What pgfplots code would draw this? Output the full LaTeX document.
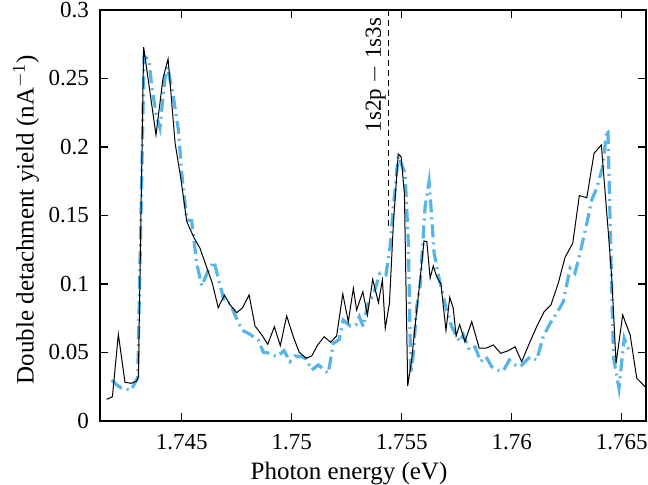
\documentclass[border=0pt]{standalone}
\usepackage{fontspec}
\setmainfont{Liberation Serif}
\usepackage{pgfplots}
\pgfplotsset{compat=1.18}
\definecolor{skyb}{RGB}{86,180,233}
\begin{document}
\begin{tikzpicture}
\begin{axis}[name=ax,
  scale only axis, width=273pt, height=205.5pt,
  xmin=1.741286, xmax=1.7661, ymin=0, ymax=0.3,
  axis line style={line width=1pt},
  tick style={line width=0.6pt, black},
  tick align=inside, major tick length=4pt,
  xtick={1.745,1.75,1.755,1.76,1.765},
  xticklabels={1.745,1.75,1.755,1.76,1.765},
  ytick={0,0.05,0.1,0.15,0.2,0.25,0.3},
  yticklabels={0,0.05,0.1,0.15,0.2,0.25,0.3},
  /pgf/number format/assume math mode=true,
  tick label style={font=\fontsize{11.5}{13}\selectfont},
  label style={font=\fontsize{12.5}{14}\selectfont},
  xlabel={Photon energy (eV)},
  ylabel={Double detachment yield (nA$^{-1}$)},
  xlabel style={at={(axis description cs:0.5,0)}, anchor=north, yshift=-17pt, xshift=-12pt},
  ylabel style={at={(axis description cs:0,0.5)}, anchor=south, yshift=27pt, xshift=-2pt},
  xticklabel style={yshift=-3pt},
  yticklabel style={xshift=-2pt},
  clip=true,
]
\addplot[color=skyb, line width=1.6pt, dash pattern=on 6.5pt off 2.5pt on 1pt off 2.5pt] coordinates {
(1.74182,0.0299)(1.74205,0.0263)(1.74227,0.0239)(1.74270,0.0226)(1.74300,0.0316)
(1.74318,0.1759)(1.74329,0.2665)(1.74351,0.2635)(1.74364,0.2438)(1.74386,0.2219)
(1.74401,0.2139)(1.74424,0.2511)(1.74436,0.2584)(1.74462,0.2365)(1.74485,0.2124)
(1.74500,0.1810)(1.74523,0.1467)(1.74545,0.1462)(1.74568,0.1151)(1.74591,0.0986)
(1.74621,0.1102)(1.74647,0.1163)(1.74666,0.1042)(1.74694,0.0871)(1.74720,0.0859)
(1.74742,0.0774)(1.74773,0.0664)(1.74810,0.0633)(1.74848,0.0591)(1.74871,0.0502)
(1.74901,0.0494)(1.74932,0.0469)(1.74965,0.0513)(1.74992,0.0433)(1.75015,0.0475)
(1.75045,0.0469)(1.75065,0.0453)(1.75091,0.0372)(1.75121,0.0409)(1.75166,0.0348)
(1.75189,0.0567)(1.75216,0.0596)(1.75234,0.0737)(1.75265,0.0694)(1.75292,0.0701)
(1.75307,0.0761)(1.75325,0.0688)(1.75348,0.0871)(1.75368,0.0907)(1.75401,0.1078)
(1.75428,0.1066)(1.75447,0.1272)(1.75462,0.1564)(1.75484,0.1935)(1.75500,0.1869)
(1.75515,0.1808)(1.75530,0.1297)(1.75541,0.0348)(1.75553,0.0494)(1.75568,0.0834)
(1.75583,0.0980)(1.75606,0.1564)(1.75624,0.1747)(1.75636,0.1491)(1.75647,0.1224)
(1.75671,0.1029)(1.75689,0.0907)(1.75704,0.0810)(1.75727,0.0688)(1.75750,0.0615)
(1.75765,0.0579)(1.75780,0.0628)(1.75807,0.0518)(1.75833,0.0540)(1.75859,0.0433)
(1.75883,0.0469)(1.75909,0.0396)(1.75932,0.0372)(1.75962,0.0367)(1.75989,0.0445)
(1.76015,0.0409)(1.76038,0.0396)(1.76083,0.0469)(1.76113,0.0445)(1.76143,0.0615)
(1.76174,0.0713)(1.76204,0.0786)(1.76234,0.0871)(1.76265,0.1115)(1.76287,0.1078)
(1.76310,0.1224)(1.76341,0.1443)(1.76363,0.1613)(1.76386,0.1699)(1.76413,0.1856)
(1.76432,0.2124)(1.76437,0.2117)(1.76450,0.1248)(1.76462,0.0469)(1.76487,0.0239)
(1.76511,0.0604)(1.76538,0.0494)
};
\addplot[color=black, line width=0.5pt] coordinates {
(1.74159,0.0158)(1.74185,0.0177)(1.74212,0.0633)(1.74242,0.0283)(1.74270,0.0275)
(1.74295,0.0292)(1.74303,0.0323)(1.74327,0.2728)(1.74383,0.2088)(1.74415,0.2502)
(1.74438,0.2643)(1.74470,0.2027)(1.74497,0.1759)(1.74523,0.1455)(1.74557,0.1334)
(1.74583,0.1261)(1.74639,0.1005)(1.74666,0.0827)(1.74694,0.0920)(1.74720,0.0847)
(1.74750,0.0791)(1.74777,0.0827)(1.74806,0.0920)(1.74833,0.0694)(1.74864,0.0628)
(1.74891,0.0560)(1.74921,0.0688)(1.74948,0.0550)(1.74977,0.0767)(1.75007,0.0615)
(1.75034,0.0502)(1.75065,0.0458)(1.75091,0.0475)(1.75118,0.0555)(1.75147,0.0615)
(1.75177,0.0575)(1.75204,0.0621)(1.75232,0.0927)(1.75257,0.0725)(1.75280,0.0969)
(1.75295,0.0810)(1.75323,0.0944)(1.75344,0.0774)(1.75368,0.1034)(1.75394,0.0864)
(1.75412,0.1029)(1.75425,0.0677)(1.75444,0.0859)(1.75462,0.1443)(1.75484,0.1949)
(1.75497,0.1929)(1.75512,0.1662)(1.75527,0.0256)(1.75545,0.0445)(1.75565,0.0761)
(1.75583,0.1029)(1.75601,0.1314)(1.75614,0.1309)(1.75629,0.1042)(1.75643,0.1132)
(1.75659,0.1053)(1.75678,0.1000)(1.75701,0.0661)(1.75718,0.0903)(1.75734,0.0823)
(1.75747,0.0621)(1.75763,0.0704)(1.75787,0.0579)(1.75818,0.0725)(1.75852,0.0531)
(1.75883,0.0531)(1.75916,0.0555)(1.75950,0.0494)(1.75984,0.0513)(1.76015,0.0542)
(1.76045,0.0433)(1.76080,0.0567)(1.76113,0.0688)(1.76147,0.0798)(1.76178,0.0847)
(1.76212,0.1010)(1.76242,0.1195)(1.76277,0.1297)(1.76307,0.1645)(1.76341,0.1630)
(1.76374,0.1954)(1.76407,0.2015)(1.76439,0.1370)(1.76454,0.1053)(1.76474,0.0421)
(1.76504,0.0774)(1.76538,0.0628)(1.76568,0.0312)(1.76606,0.0250)
};
\addplot[black, line width=0.6pt, dash pattern=on 3pt off 2pt] coordinates {(1.75438,0.3)(1.75438,0.141)};
\node[rotate=90, anchor=south east, inner sep=1pt, font=\fontsize{11.5}{13}\selectfont] at (axis cs:1.75438,0.296) {1s2p $-$ 1s3s};
\end{axis}
\pgfresetboundingbox
\path ([shift={(-50pt,-32pt)}]ax.south west) rectangle ([shift={(1pt,5pt)}]ax.north east);
\end{tikzpicture}
\end{document}
